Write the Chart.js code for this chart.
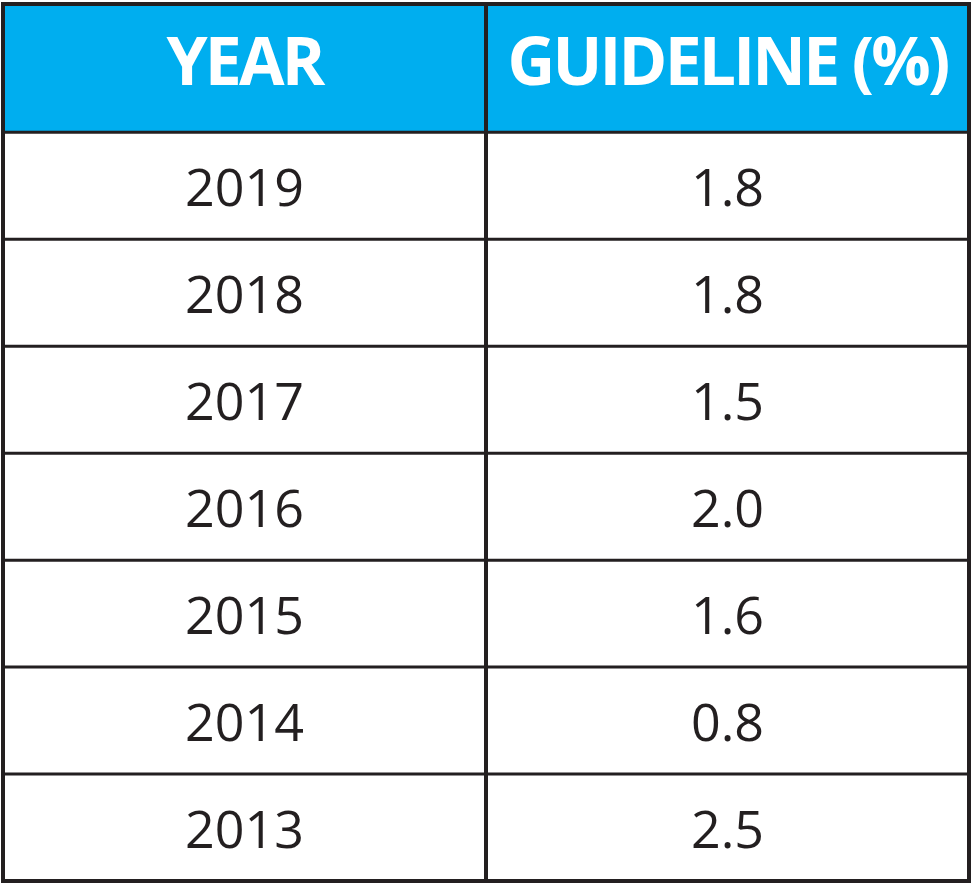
<!DOCTYPE html>
<html>
<head>
<meta charset="utf-8">
<script src="https://cdn.jsdelivr.net/npm/chart.js@4"></script>
<style>
  html, body { margin: 0; padding: 0; background: #ffffff; }
  canvas { display: block; }
</style>
</head>
<body>
<canvas id="guidelineTable" width="972" height="884"></canvas>
<script>
// Table content
const headers = ['YEAR', 'GUIDELINE (%)'];
const years = ['2019', '2018', '2017', '2016', '2015', '2014', '2013'];
const guideline = [1.8, 1.8, 1.5, 2.0, 1.6, 0.8, 2.5];

const HEADER_SPAN = 1.2; // header row is a bit taller than body rows
const lineColor = '#231f20';
const headerBlue = '#00aeef';

// Draws the table cells through the chart's x / y scales
const tablePlugin = {
    id: 'tablePlugin',
    afterDraw(chart) {
        const ctx = chart.ctx;
        const xs = chart.scales.x;
        const ys = chart.scales.y;
        const left = xs.getPixelForValue(0);
        const mid = xs.getPixelForValue(1);
        const right = xs.getPixelForValue(2);
        const top = ys.getPixelForValue(-HEADER_SPAN);
        const headBottom = ys.getPixelForValue(0);
        const bottom = ys.getPixelForValue(years.length);
        const colCenters = [xs.getPixelForValue(0.5), xs.getPixelForValue(1.5)];

        ctx.save();

        // header background
        ctx.fillStyle = headerBlue;
        ctx.fillRect(left, top, right - left, headBottom - top);

        // header text
        ctx.fillStyle = '#ffffff';
        ctx.font = 'bold 66px "Open Sans"';
        ctx.textAlign = 'center';
        ctx.textBaseline = 'alphabetic';
        ctx.letterSpacing = '-2.8px';
        const headCenter = (top + headBottom) / 2;
        headers.forEach((h, i) => {
            ctx.fillText(h, colCenters[i], headCenter + 17);
        });

        // body text
        ctx.letterSpacing = '0px';
        ctx.fillStyle = lineColor;
        ctx.font = '52px "Open Sans"';
        years.forEach((yr, i) => {
            const c = ys.getPixelForValue(i + 0.5);
            ctx.fillText(yr, colCenters[0], c + 20);
            ctx.fillText(guideline[i].toFixed(1), colCenters[1], c + 20);
        });

        // row lines
        ctx.strokeStyle = lineColor;
        ctx.lineWidth = 3;
        for (let i = 0; i < years.length; i++) {
            const yy = ys.getPixelForValue(i);
            ctx.beginPath();
            ctx.moveTo(left, yy);
            ctx.lineTo(right, yy);
            ctx.stroke();
        }

        // column divider
        ctx.lineWidth = 4;
        ctx.beginPath();
        ctx.moveTo(mid, top);
        ctx.lineTo(mid, bottom);
        ctx.stroke();

        // outer border
        ctx.lineWidth = 4;
        ctx.strokeRect(left, top, right - left, bottom - top);

        ctx.restore();
    }
};

const ctx = document.getElementById('guidelineTable').getContext('2d');

const myChart = new Chart(ctx, {
    type: 'scatter',
    data: {
        datasets: [{ data: [] }]
    },
    options: {
        responsive: false,
        animation: false,
        devicePixelRatio: 1,
        layout: {
            padding: { left: 3, right: 3, top: 4, bottom: 3 }
        },
        plugins: {
            legend: { display: false },
            tooltip: { enabled: false }
        },
        scales: {
            x: { type: 'linear', min: 0, max: 2, display: false },
            y: { type: 'linear', min: -HEADER_SPAN, max: years.length, reverse: true, display: false }
        }
    },
    plugins: [tablePlugin]
});
</script>
</body>
</html>
